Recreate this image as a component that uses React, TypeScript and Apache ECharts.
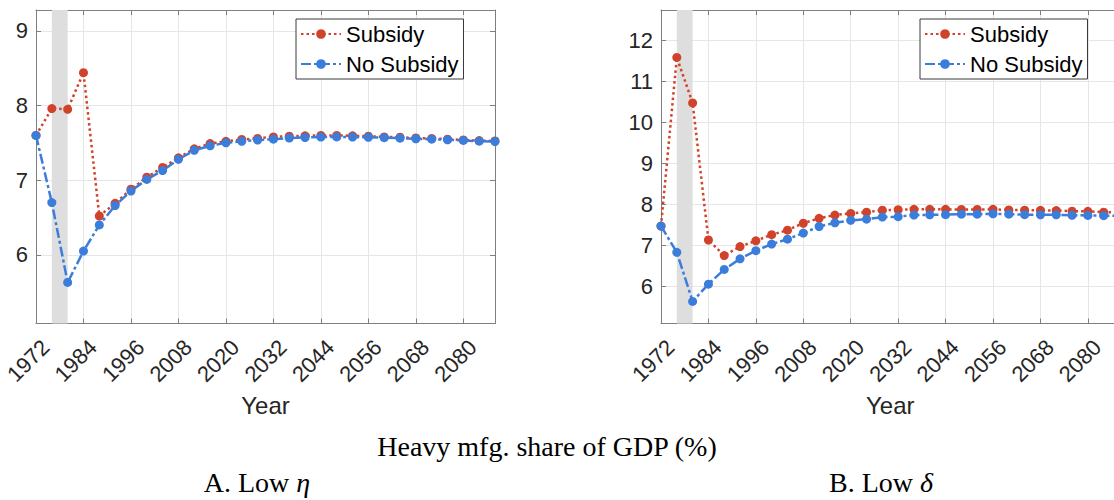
import React, { useEffect, useRef } from "react";
import * as echarts from "echarts";

// ---------- data ----------
const YEARS = [
  "1972", "1976", "1980", "1984", "1988", "1992", "1996", "2000", "2004", "2008",
  "2012", "2016", "2020", "2024", "2028", "2032", "2036", "2040", "2044", "2048",
  "2052", "2056", "2060", "2064", "2068", "2072", "2076", "2080", "2084", "2088",
];

// Panel A (Low eta)
const A_SUBSIDY = [
  7.6, 7.96, 7.95, 8.44, 6.52, 6.69, 6.88, 7.04, 7.17, 7.3,
  7.42, 7.49, 7.52, 7.545, 7.56, 7.58, 7.59, 7.595, 7.6, 7.6,
  7.595, 7.59, 7.58, 7.575, 7.565, 7.56, 7.55, 7.54, 7.53, 7.525,
];
const A_NO_SUBSIDY = [
  7.6, 6.7, 5.63, 6.05, 6.4, 6.66, 6.855, 7.01, 7.13, 7.28,
  7.4, 7.46, 7.5, 7.52, 7.537, 7.55, 7.565, 7.572, 7.578, 7.58,
  7.577, 7.575, 7.57, 7.563, 7.555, 7.55, 7.541, 7.532, 7.523, 7.518,
];

// Panel B (Low delta)
const B_SUBSIDY = [
  7.47, 11.59, 10.48, 7.13, 6.75, 6.97, 7.11, 7.26, 7.37, 7.54,
  7.66, 7.74, 7.78, 7.81, 7.86, 7.87, 7.88, 7.88, 7.88, 7.875,
  7.875, 7.88, 7.865, 7.86, 7.855, 7.85, 7.835, 7.83, 7.81, 7.8,
];
const B_NO_SUBSIDY = [
  7.47, 6.83, 5.63, 6.05, 6.41, 6.67, 6.87, 7.03, 7.15, 7.3,
  7.46, 7.55, 7.61, 7.64, 7.69, 7.7, 7.74, 7.745, 7.75, 7.76,
  7.76, 7.77, 7.76, 7.75, 7.745, 7.745, 7.735, 7.73, 7.725, 7.72,
];

const A_Y_RANGE = [5.08, 9.28];
const B_Y_RANGE = [5.09, 12.75];
const SHADE_RANGE = ["1976", "1980"];
const SERIES_NAMES = ["Subsidy", "No Subsidy"];
const X_NAME = "Year";
const CAPTION = "Heavy mfg. share of GDP (%)";
const PANEL_TITLES = ["A. Low {i|η}", "B. Low {i|δ}"];

// ---------- style ----------
const SANS = "'Liberation Sans', Arial, Helvetica, sans-serif";
const SERIF = "'Liberation Serif', 'Times New Roman', serif";
const AXIS_COLOR = "#7f7f7f";
const TEXT_COLOR = "#262626";
const GRID_COLOR = "#e6e6e6";
const RED = "#d0432a";
const BLUE = "#3b7ddb";

function bottomX(gridIndex: number) {
  return {
    type: "category",
    gridIndex,
    data: YEARS,
    boundaryGap: false,
    axisLine: { show: true, lineStyle: { color: AXIS_COLOR, width: 1 } },
    axisTick: { show: true, inside: true, length: 5, interval: 2, lineStyle: { color: AXIS_COLOR } },
    axisLabel: {
      interval: 2,
      rotate: 45,
      align: "center",
      verticalAlign: "bottom",
      fontSize: 22,
      color: TEXT_COLOR,
      fontFamily: SANS,
      margin: 45,
    },
    splitLine: { show: true, interval: 2, lineStyle: { color: GRID_COLOR, width: 1 } },
    name: X_NAME,
    nameLocation: "middle",
    nameGap: 70,
    nameTextStyle: { fontSize: 24, color: TEXT_COLOR, fontFamily: SANS },
  };
}

function topX(gridIndex: number) {
  return {
    type: "category",
    gridIndex,
    position: "top",
    data: YEARS,
    boundaryGap: false,
    axisLine: { show: true, lineStyle: { color: AXIS_COLOR, width: 1 } },
    axisTick: { show: true, inside: true, length: 5, interval: 2, lineStyle: { color: AXIS_COLOR } },
    axisLabel: { show: false },
    splitLine: { show: false },
  };
}

function leftY(gridIndex: number, range: number[]) {
  return {
    type: "value",
    gridIndex,
    min: range[0],
    max: range[1],
    minInterval: 1,
    maxInterval: 1,
    axisLine: { show: true, lineStyle: { color: AXIS_COLOR, width: 1 } },
    axisTick: { show: true, inside: true, length: 5, lineStyle: { color: AXIS_COLOR } },
    axisLabel: {
      fontSize: 22,
      color: TEXT_COLOR,
      fontFamily: SANS,
      margin: 8,
      showMinLabel: false,
      showMaxLabel: false,
    },
    splitLine: { show: true, lineStyle: { color: GRID_COLOR, width: 1 } },
  };
}

function rightY(gridIndex: number, range: number[]) {
  return {
    type: "value",
    gridIndex,
    position: "right",
    min: range[0],
    max: range[1],
    minInterval: 1,
    maxInterval: 1,
    axisLine: { show: true, lineStyle: { color: AXIS_COLOR, width: 1 } },
    axisTick: { show: true, inside: true, length: 5, lineStyle: { color: AXIS_COLOR } },
    axisLabel: { show: false },
    splitLine: { show: false },
  };
}

function subsidySeries(values: number[], xi: number, yi: number) {
  return {
    name: SERIES_NAMES[0],
    type: "line",
    xAxisIndex: xi,
    yAxisIndex: yi,
    data: values,
    symbol: "circle",
    symbolSize: 9,
    itemStyle: { color: RED },
    lineStyle: { color: RED, width: 2.5, type: [2.5, 3] },
    markArea: {
      silent: true,
      itemStyle: { color: "#dedede" },
      data: [[{ xAxis: SHADE_RANGE[0] }, { xAxis: SHADE_RANGE[1] }]],
    },
  };
}

function noSubsidySeries(values: number[], xi: number, yi: number) {
  return {
    name: SERIES_NAMES[1],
    type: "line",
    xAxisIndex: xi,
    yAxisIndex: yi,
    data: values,
    symbol: "circle",
    symbolSize: 9,
    itemStyle: { color: BLUE },
    lineStyle: { color: BLUE, width: 2.5, type: [10, 3, 3, 3] },
  };
}

function legendAt(left: number) {
  return {
    orient: "vertical",
    left,
    top: 19,
    data: SERIES_NAMES,
    selectedMode: false,
    backgroundColor: "#ffffff",
    borderColor: "#3a3a3a",
    borderWidth: 1,
    borderRadius: 0,
    padding: [4, 5, 4, 4],
    itemGap: 8,
    itemWidth: 40,
    itemHeight: 12,
    textStyle: { fontSize: 22, color: "#000", fontFamily: SANS },
  };
}

export default function App() {
  const ref = useRef<HTMLDivElement>(null);

  useEffect(() => {
    if (!ref.current) return;
    const chart = echarts.init(ref.current, null, { renderer: "svg" });
    const option = {
      animation: false,
      backgroundColor: "#ffffff",
      grid: [
        { left: 36, top: 10, right: 619, bottom: 176.5, show: false, containLabel: false, outerBoundsMode: "none" },
        { left: 661, top: 10, right: -5.5, bottom: 176.5, show: false, containLabel: false, outerBoundsMode: "none" },
      ],
      xAxis: [bottomX(0), topX(0), bottomX(1), topX(1)],
      yAxis: [leftY(0, A_Y_RANGE), rightY(0, A_Y_RANGE), leftY(1, B_Y_RANGE), rightY(1, B_Y_RANGE)],
      legend: [legendAt(296), legendAt(920)],
      series: [
        subsidySeries(A_SUBSIDY, 0, 0),
        noSubsidySeries(A_NO_SUBSIDY, 0, 0),
        subsidySeries(B_SUBSIDY, 2, 2),
        noSubsidySeries(B_NO_SUBSIDY, 2, 2),
      ],
      graphic: [
        {
          type: "text",
          x: 547,
          y: 446,
          style: {
            text: CAPTION,
            fontFamily: SERIF,
            fontSize: 28,
            fill: "#000",
            textAlign: "center",
            textVerticalAlign: "middle",
          },
        },
        {
          type: "text",
          x: 257,
          y: 482,
          style: {
            text: PANEL_TITLES[0],
            fontFamily: SERIF,
            fontSize: 28,
            fill: "#000",
            textAlign: "center",
            textVerticalAlign: "middle",
            rich: { i: { fontFamily: SERIF, fontSize: 28, fontStyle: "italic", fill: "#000" } },
          },
        },
        {
          type: "text",
          x: 881,
          y: 482,
          style: {
            text: PANEL_TITLES[1],
            fontFamily: SERIF,
            fontSize: 28,
            fill: "#000",
            textAlign: "center",
            textVerticalAlign: "middle",
            rich: { i: { fontFamily: SERIF, fontSize: 28, fontStyle: "italic", fill: "#000" } },
          },
        },
      ],
    };
    chart.setOption(option as any);
    return () => chart.dispose();
  }, []);

  return (
    <div
      ref={ref}
      style={{ position: "fixed", left: 0, top: 0, width: 1114, height: 500 }}
    />
  );
}
